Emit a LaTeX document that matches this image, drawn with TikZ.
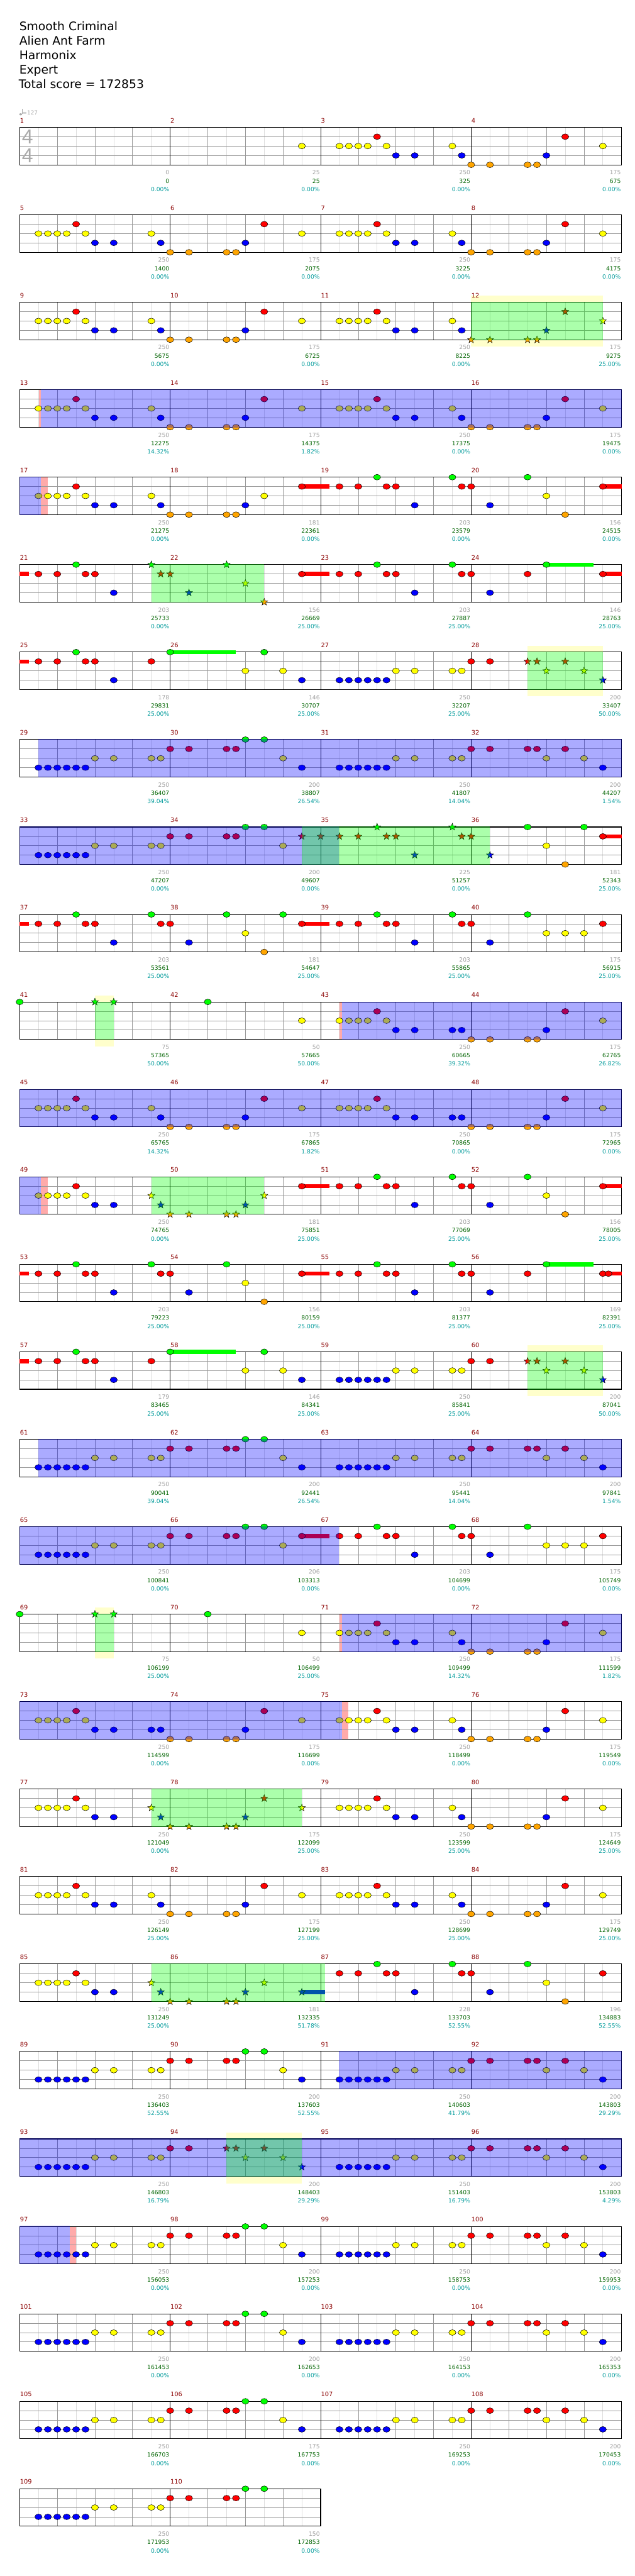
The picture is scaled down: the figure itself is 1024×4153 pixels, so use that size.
\documentclass[tikz,border=0pt]{standalone}
\usepackage{fontspec}
\setmainfont{DejaVu Sans}
\newfontfamily\tsfont{Liberation Sans}
\usetikzlibrary{shapes.geometric}
\pgfdeclarelayer{bg}\pgfdeclarelayer{grid}\pgfdeclarelayer{sus}\pgfdeclarelayer{ov}
\pgfsetlayers{bg,grid,sus,main,ov}
\definecolor{lane0}{RGB}{0,255,0}
\definecolor{lane1}{RGB}{255,0,0}
\definecolor{lane2}{RGB}{255,255,0}
\definecolor{lane3}{RGB}{0,0,255}
\definecolor{lane4}{RGB}{255,165,0}
\definecolor{mnumc}{RGB}{139,0,0}
\definecolor{graynum}{RGB}{160,160,160}
\definecolor{scorec}{RGB}{0,100,0}
\definecolor{pctc}{RGB}{0,155,155}
\definecolor{gridq}{RGB}{153,153,153}
\definecolor{gride}{RGB}{221,221,221}
\definecolor{paley}{RGB}{255,255,204}
\definecolor{stripc}{RGB}{255,170,170}
\definecolor{tsgray}{RGB}{170,170,170}
% patterns
\def\pA{2/2,3/2,4/2,5/2,6/1,7/2,8/3,10/3,14/2,15/3}
\def\pAb{2/2,3/2,4/2,5/2,6/1,7/2,8/3,10/3,14/3,15/3}
\def\pAh{2/2,3/2,4/2,5/2,6/1,7/2,8/3,10/3}
\def\pB{0/4,2/4,6/4,7/4,8/3,10/1,14/2}
\def\pC{2/1,4/1,6/0,7/1,8/1,10/3,14/0,15/1}
\def\pCh{2/1,4/1,6/0,7/1,8/1,10/3}
\def\pD{0/1,2/3,6/0,8/2,10/4,14/1}
\def\pE{2/3,3/3,4/3,5/3,6/3,7/3,8/2,10/2,14/2,15/2}
\def\pF{0/1,2/1,6/1,7/1,8/0,10/0,12/2}
\def\pG{0/0,8/2,10/0,12/2,14/3}
\def\pH{0/1,2/1,6/1,7/1,8/2,10/1,12/2,14/3}
\newcommand\meas[3]{%
 \pgfmathtruncatemacro\mrow{(#1-1)/4}%
 \pgfmathtruncatemacro\mcol{#1-1-4*\mrow}%
 \pgfmathsetmacro\mxz{31.7+\mcol*242.7}%
 \pgfmathsetmacro\myz{205.3+\mrow*141}%
 \edef\curlist{#2}%
 \ifx\curlist\empty\else
  \foreach \np/\nl in \curlist {\draw[notestyle, fill=lane\nl] ({\mxz+\np*15.169},{\myz+\nl*15.1}) ellipse [x radius=5.8pt, y radius=4.6pt];}%
 \fi
 \edef\curlist{#3}%
 \ifx\curlist\empty\else
  \foreach \np/\nl in \curlist {\node[starnote, fill=lane\nl] (st#1-\np-\nl) at ({\mxz+\np*15.169},{\myz+\nl*15.1}) {};}%
 \fi}
\newcommand\nums[4]{%
 \pgfmathtruncatemacro\mrow{(#1-1)/4}%
 \pgfmathtruncatemacro\mcol{#1-1-4*\mrow}%
 \pgfmathsetmacro\mxs{31.7+\mcol*242.7}%
 \pgfmathsetmacro\rowL{194.3+\mrow*141}%
 \node[mnum, anchor=base west] (mn#1) at (\mxs+0.3,\rowL+3.5) {#1};
 \node[gnum, anchor=base east] (gn#1) at (\mxs+241.5,\rowL+87.4) {#2};
 \node[snum, anchor=base east] (sn#1) at (\mxs+241.5,\rowL+100.8) {#3};
 \node[pnum, anchor=base east] (pn#1) at (\mxs+241.5,\rowL+114.2) {#4\%};}
\newcommand\staffrow[2]{%
 \pgfmathsetmacro\rowL{194.3+#1*141}%
 \pgfmathsetmacro\rowR{31.7+#2*242.7}%
 \pgfmathtruncatemacro\nmm{#2-1}%
 \begin{pgfonlayer}{grid}
 \foreach \mi in {1,...,#2}{%
   \foreach \ej in {1,3,5,7}{\draw[gride, line width=0.7pt] ({31.7+(\mi-1)*242.7+\ej*30.3375},\rowL+11) -- ++(0,60.4);}
   \foreach \ej in {2,4,6}{\draw[gridq, line width=0.7pt] ({31.7+(\mi-1)*242.7+\ej*30.3375},\rowL+11) -- ++(0,60.4);}
 }
 \foreach \lj in {1,2,3}{\draw[gridq, line width=0.8pt] (31.7,{\rowL+11+\lj*15.1}) -- (\rowR,{\rowL+11+\lj*15.1});}
 \foreach \mi in {1,...,\nmm}{\draw[black, line width=0.7pt] ({31.7+\mi*242.7},\rowL+11) -- ++(0,60.4);}
 \draw[black, line width=1.1pt] (31.7,\rowL+11) rectangle (\rowR,\rowL+71.4);
 \end{pgfonlayer}}
\newcommand\sus[4]{%
 \pgfmathsetmacro\rowL{194.3+#1*141}%
 \begin{pgfonlayer}{sus}
 \fill[lane#4] ({31.7+#2*15.169},{\rowL+11+#4*15.1-3.3}) rectangle ({31.7+#3*15.169},{\rowL+11+#4*15.1+3.3});
 \end{pgfonlayer}}
\newcommand\bov[3]{%
 \pgfmathsetmacro\rowL{194.3+#1*141}%
 \begin{pgfonlayer}{ov}
 \fill[lane3, fill opacity=0.33] ({31.7+#2*15.169},\rowL+10.4) rectangle ({31.7+#3*15.169},\rowL+72);
 \end{pgfonlayer}}
\newcommand\gov[3]{%
 \pgfmathsetmacro\rowL{194.3+#1*141}%
 \begin{pgfonlayer}{ov}
 \fill[lane0, fill opacity=0.33] ({31.7+#2*15.169},\rowL+10.4) rectangle ({31.7+#3*15.169},\rowL+72);
 \end{pgfonlayer}}
\newcommand\pal[3]{%
 \pgfmathsetmacro\rowL{194.3+#1*141}%
 \begin{pgfonlayer}{bg}
 \fill[paley] ({31.7+#2*15.169},\rowL+0.5) rectangle ({31.7+#3*15.169},\rowL+10.5);
 \fill[paley] ({31.7+#2*15.169},\rowL+71.9) rectangle ({31.7+#3*15.169},\rowL+82.5);
 \end{pgfonlayer}}
\newcommand\rst[3]{%
 \pgfmathsetmacro\rowL{194.3+#1*141}%
 \begin{pgfonlayer}{bg}
 \fill[stripc] ({31.7+#2*15.169},\rowL+11) rectangle ({31.7+#3*15.169},\rowL+71.4);
 \end{pgfonlayer}}
\begin{document}
\begin{tikzpicture}[x=1pt,y=-1pt,
 mnum/.style={inner sep=0, text=mnumc, font=\fontsize{10}{10}\selectfont},
 gnum/.style={inner sep=0, text=graynum, font=\fontsize{9.3}{9.3}\selectfont},
 snum/.style={inner sep=0, text=scorec, font=\fontsize{9.3}{9.3}\selectfont},
 pnum/.style={inner sep=0, text=pctc, font=\fontsize{9.3}{9.3}\selectfont},
 notestyle/.style={draw=black, line width=0.5pt},
 starnote/.style={star, star points=5, star point ratio=2.4, minimum size=12pt, inner sep=0, draw=black, line width=0.5pt},
 ttl/.style={inner sep=0, anchor=base west, font=\fontsize{19}{19}\selectfont}]
\begin{pgfonlayer}{bg}
\fill[white] (0,0) rectangle (1024,4153);
\end{pgfonlayer}
\useasboundingbox (0,0) rectangle (1024,4153);
% header
\node[ttl] (t1) at (31,49) {Smooth Criminal};
\node[ttl] (t2) at (31,72.3) {Alien Ant Farm};
\node[ttl] (t3) at (31,95.6) {Harmonix};
\node[ttl] (t4) at (31,119) {Expert};
\node[ttl] (t5) at (30,142.3) {Total score = 172853};
\fill[tsgray] (33.3,184.3) ellipse [x radius=2.3pt, y radius=1.7pt];
\draw[tsgray, line width=0.5pt] (35.4,184) -- (35.4,175.5);
\node[inner sep=0, anchor=base west, text=tsgray, font=\fontsize{9}{9}\selectfont] (bpm) at (36,184.6) {=127};
\node[inner sep=0, text=tsgray, font=\tsfont\fontsize{32.5}{32.5}\selectfont] (ts1) at (44.5,221) {4};
\node[inner sep=0, text=tsgray, font=\tsfont\fontsize{32.5}{32.5}\selectfont] (ts2) at (44.5,251) {4};
% staffs
\foreach \r in {0,...,26}{\staffrow{\r}{4}}
\staffrow{27}{2}
% overlays / backgrounds
\pal{2}{48}{62}\gov{2}{48}{62}
\rst{3}{1.96}{2.26}\bov{3}{2.26}{64}
\bov{4}{0}{2.26}\rst{4}{2.26}{2.96}
\gov{5}{14}{26}
\pal{6}{54}{62}\gov{6}{54}{62}
\bov{7}{1.96}{64}
\bov{8}{0}{33.96}\gov{8}{30}{50}
\pal{10}{8}{10}\gov{10}{8}{10}\rst{10}{33.96}{34.26}\bov{10}{34.26}{64}
\bov{11}{0}{64}
\bov{12}{0}{2.26}\rst{12}{2.26}{2.96}\gov{12}{14}{26}
\pal{14}{54}{62}\gov{14}{54}{62}
\bov{15}{1.96}{64}
\bov{16}{0}{33.96}
\pal{17}{8}{10}\gov{17}{8}{10}\rst{17}{33.96}{34.26}\bov{17}{34.26}{64}
\bov{18}{0}{34.26}\rst{18}{34.26}{34.92}
\gov{19}{14}{30}
\gov{21}{14}{32.5}
\bov{22}{33.96}{64}
\bov{23}{0}{64}\pal{23}{22}{30}\gov{23}{22}{30}
\bov{24}{0}{5.3}\rst{24}{5.3}{6.0}
% sustains
\sus{4}{30}{32.96}{1}\sus{4}{62}{64}{1}
\sus{5}{0}{0.96}{1}\sus{5}{30}{32.96}{1}\sus{5}{56}{61}{0}\sus{5}{62}{64}{1}
\sus{6}{0}{0.96}{1}\sus{6}{16}{23}{0}
\sus{8}{62}{64}{1}
\sus{9}{0}{0.96}{1}\sus{9}{30}{32.96}{1}
\sus{12}{30}{32.96}{1}\sus{12}{62}{64}{1}
\sus{13}{0}{0.96}{1}\sus{13}{30}{32.96}{1}\sus{13}{56}{61}{0}\sus{13}{62.6}{64}{1}
\sus{14}{0}{0.96}{1}\sus{14}{16}{23}{0}
\sus{16}{30}{32.96}{1}
\sus{21}{30}{32.5}{3}
% notes
\meas{2}{14/2}{}
\meas{3}{\pA}{}\meas{4}{\pB}{}
\meas{5}{\pA}{}\meas{6}{\pB}{}\meas{7}{\pA}{}\meas{8}{\pB}{}
\meas{9}{\pA}{}\meas{10}{\pB}{}\meas{11}{\pA}{}\meas{12}{}{\pB}
\meas{13}{\pA}{}\meas{14}{\pB}{}\meas{15}{\pA}{}\meas{16}{\pB}{}
\meas{17}{\pA}{}\meas{18}{0/4,2/4,6/4,7/4,8/3,10/2,14/1}{}\meas{19}{\pC}{}\meas{20}{\pD}{}
\meas{21}{\pCh}{14/0,15/1}\meas{22}{14/1}{0/1,2/3,6/0,8/2,10/4}\meas{23}{\pC}{}\meas{24}{0/1,2/3,6/1,8/0,14/1}{}
\meas{25}{\pCh,14/1}{}\meas{26}{\pG}{}\meas{27}{\pE}{}\meas{28}{0/1,2/1}{6/1,7/1,8/2,10/1,12/2,14/3}
\meas{29}{\pE}{}\meas{30}{\pF,14/3}{}\meas{31}{\pE}{}\meas{32}{\pH}{}
\meas{33}{\pE}{}\meas{34}{\pF}{14/1}\meas{35}{}{0/1,2/1,4/1,6/0,7/1,8/1,10/3,14/0,15/1}\meas{36}{6/0,8/2,10/4,12/0,14/1}{0/1,2/3}
\meas{37}{\pC}{}\meas{38}{0/1,2/3,6/0,8/2,10/4,12/0,14/1}{}\meas{39}{\pC}{}\meas{40}{0/1,2/3,6/0,8/2,10/2,12/2,14/1}{}
\meas{41}{0/0}{8/0,10/0}\meas{42}{4/0,14/2}{}\meas{43}{\pAb}{}\meas{44}{\pB}{}
\meas{45}{\pA}{}\meas{46}{\pB}{}\meas{47}{\pAb}{}\meas{48}{\pB}{}
\meas{49}{\pAh}{14/2,15/3}\meas{50}{14/1}{0/4,2/4,6/4,7/4,8/3,10/2}\meas{51}{\pC}{}\meas{52}{\pD}{}
\meas{53}{\pC}{}\meas{54}{0/1,2/3,6/0,8/2,10/4,14/1}{}\meas{55}{\pC}{}\meas{56}{0/1,2/3,6/1,8/0,14/1,14.6/1}{}
\meas{57}{\pCh,14/1}{}\meas{58}{\pG}{}\meas{59}{\pE}{}\meas{60}{0/1,2/1}{6/1,7/1,8/2,10/1,12/2,14/3}
\meas{61}{\pE}{}\meas{62}{\pF,14/3}{}\meas{63}{\pE}{}\meas{64}{\pH}{}
\meas{65}{\pE}{}\meas{66}{\pF,14/1}{}\meas{67}{\pC}{}\meas{68}{0/1,2/3,6/0,8/2,10/2,12/2,14/1}{}
\meas{69}{0/0}{8/0,10/0}\meas{70}{4/0,14/2}{}\meas{71}{\pA}{}\meas{72}{\pB}{}
\meas{73}{\pAb}{}\meas{74}{\pB}{}\meas{75}{\pA}{}\meas{76}{\pB}{}
\meas{77}{\pAh}{14/2,15/3}\meas{78}{}{\pB}\meas{79}{\pA}{}\meas{80}{\pB}{}
\meas{81}{\pA}{}\meas{82}{\pB}{}\meas{83}{\pA}{}\meas{84}{\pB}{}
\meas{85}{\pAh}{14/2,15/3}\meas{86}{}{0/4,2/4,6/4,7/4,8/3,10/2,14/3}\meas{87}{\pC}{}\meas{88}{\pD}{}
\meas{89}{\pE}{}\meas{90}{\pF,14/3}{}\meas{91}{\pE}{}\meas{92}{\pH}{}
\meas{93}{\pE}{}\meas{94}{0/1,2/1}{6/1,7/1,8/2,10/1,12/2,14/3}\meas{95}{\pE}{}\meas{96}{\pH}{}
\meas{97}{\pE}{}\meas{98}{\pF,14/3}{}\meas{99}{\pE}{}\meas{100}{\pH}{}
\meas{101}{\pE}{}\meas{102}{\pF,14/3}{}\meas{103}{\pE}{}\meas{104}{\pH}{}
\meas{105}{\pE}{}\meas{106}{\pF,14/3}{}\meas{107}{\pE}{}\meas{108}{\pH}{}
\meas{109}{\pE}{}\meas{110}{0/1,2/1,6/1,7/1,8/0,10/0}{}
% numbers
\nums{1}{0}{0}{0.00}\nums{2}{25}{25}{0.00}\nums{3}{250}{325}{0.00}\nums{4}{175}{675}{0.00}
\nums{5}{250}{1400}{0.00}\nums{6}{175}{2075}{0.00}\nums{7}{250}{3225}{0.00}\nums{8}{175}{4175}{0.00}
\nums{9}{250}{5675}{0.00}\nums{10}{175}{6725}{0.00}\nums{11}{250}{8225}{0.00}\nums{12}{175}{9275}{25.00}
\nums{13}{250}{12275}{14.32}\nums{14}{175}{14375}{1.82}\nums{15}{250}{17375}{0.00}\nums{16}{175}{19475}{0.00}
\nums{17}{250}{21275}{0.00}\nums{18}{181}{22361}{0.00}\nums{19}{203}{23579}{0.00}\nums{20}{156}{24515}{0.00}
\nums{21}{203}{25733}{0.00}\nums{22}{156}{26669}{25.00}\nums{23}{203}{27887}{25.00}\nums{24}{146}{28763}{25.00}
\nums{25}{178}{29831}{25.00}\nums{26}{146}{30707}{25.00}\nums{27}{250}{32207}{25.00}\nums{28}{200}{33407}{50.00}
\nums{29}{250}{36407}{39.04}\nums{30}{200}{38807}{26.54}\nums{31}{250}{41807}{14.04}\nums{32}{200}{44207}{1.54}
\nums{33}{250}{47207}{0.00}\nums{34}{200}{49607}{0.00}\nums{35}{225}{51257}{0.00}\nums{36}{181}{52343}{25.00}
\nums{37}{203}{53561}{25.00}\nums{38}{181}{54647}{25.00}\nums{39}{203}{55865}{25.00}\nums{40}{175}{56915}{25.00}
\nums{41}{75}{57365}{50.00}\nums{42}{50}{57665}{50.00}\nums{43}{250}{60665}{39.32}\nums{44}{175}{62765}{26.82}
\nums{45}{250}{65765}{14.32}\nums{46}{175}{67865}{1.82}\nums{47}{250}{70865}{0.00}\nums{48}{175}{72965}{0.00}
\nums{49}{250}{74765}{0.00}\nums{50}{181}{75851}{25.00}\nums{51}{203}{77069}{25.00}\nums{52}{156}{78005}{25.00}
\nums{53}{203}{79223}{25.00}\nums{54}{156}{80159}{25.00}\nums{55}{203}{81377}{25.00}\nums{56}{169}{82391}{25.00}
\nums{57}{179}{83465}{25.00}\nums{58}{146}{84341}{25.00}\nums{59}{250}{85841}{25.00}\nums{60}{200}{87041}{50.00}
\nums{61}{250}{90041}{39.04}\nums{62}{200}{92441}{26.54}\nums{63}{250}{95441}{14.04}\nums{64}{200}{97841}{1.54}
\nums{65}{250}{100841}{0.00}\nums{66}{206}{103313}{0.00}\nums{67}{203}{104699}{0.00}\nums{68}{175}{105749}{0.00}
\nums{69}{75}{106199}{25.00}\nums{70}{50}{106499}{25.00}\nums{71}{250}{109499}{14.32}\nums{72}{175}{111599}{1.82}
\nums{73}{250}{114599}{0.00}\nums{74}{175}{116699}{0.00}\nums{75}{250}{118499}{0.00}\nums{76}{175}{119549}{0.00}
\nums{77}{250}{121049}{0.00}\nums{78}{175}{122099}{25.00}\nums{79}{250}{123599}{25.00}\nums{80}{175}{124649}{25.00}
\nums{81}{250}{126149}{25.00}\nums{82}{175}{127199}{25.00}\nums{83}{250}{128699}{25.00}\nums{84}{175}{129749}{25.00}
\nums{85}{250}{131249}{25.00}\nums{86}{181}{132335}{51.78}\nums{87}{228}{133703}{52.55}\nums{88}{196}{134883}{52.55}
\nums{89}{250}{136403}{52.55}\nums{90}{200}{137603}{52.55}\nums{91}{250}{140603}{41.79}\nums{92}{200}{143803}{29.29}
\nums{93}{250}{146803}{16.79}\nums{94}{200}{148403}{29.29}\nums{95}{250}{151403}{16.79}\nums{96}{200}{153803}{4.29}
\nums{97}{250}{156053}{0.00}\nums{98}{200}{157253}{0.00}\nums{99}{250}{158753}{0.00}\nums{100}{200}{159953}{0.00}
\nums{101}{250}{161453}{0.00}\nums{102}{200}{162653}{0.00}\nums{103}{250}{164153}{0.00}\nums{104}{200}{165353}{0.00}
\nums{105}{250}{166703}{0.00}\nums{106}{175}{167753}{0.00}\nums{107}{250}{169253}{0.00}\nums{108}{200}{170453}{0.00}
\nums{109}{250}{171953}{0.00}\nums{110}{150}{172853}{0.00}
\end{tikzpicture}
\end{document}
